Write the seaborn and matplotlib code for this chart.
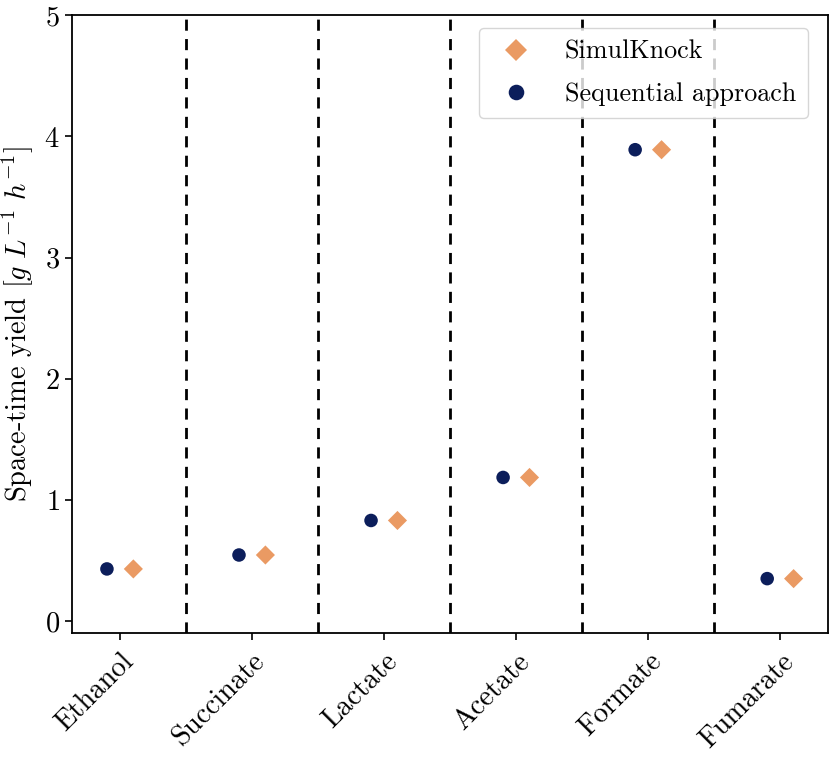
import matplotlib
matplotlib.use("Agg")
import matplotlib.pyplot as plt
import numpy as np
import pandas as pd
import seaborn as sns

categories = ["Ethanol", "Succinate", "Lactate", "Acetate", "Formate", "Fumarate"]
simulknock = [0.43, 0.545, 0.83, 1.185, 3.89, 0.35]
sequential = [0.43, 0.545, 0.83, 1.185, 3.89, 0.35]
series_names = ["SimulKnock", "Sequential approach"]

sns.set_style("ticks")
plt.rcParams["font.family"] = "serif"
plt.rcParams["font.serif"] = ["cmr10"]
plt.rcParams["mathtext.fontset"] = "cm"
plt.rcParams["axes.formatter.use_mathtext"] = True
plt.rcParams["axes.unicode_minus"] = False
plt.rcParams["axes.edgecolor"] = "black"
plt.rcParams["xtick.color"] = "black"
plt.rcParams["ytick.color"] = "black"
plt.rcParams["text.color"] = "black"
plt.rcParams["axes.labelcolor"] = "black"

idx = np.arange(len(categories))
df = pd.DataFrame({
    "x": np.concatenate([idx + 0.1, idx - 0.1]),
    "y": simulknock + sequential,
    "method": [series_names[0]] * len(categories) + [series_names[1]] * len(categories),
})

fig = plt.figure(figsize=(8.3, 7.61), dpi=100)
ax = fig.add_axes([0.087, 0.168, 0.911, 0.812])

sns.scatterplot(data=df, x="x", y="y", hue="method", style="method",
                hue_order=series_names, style_order=series_names,
                palette={series_names[0]: "#EA9A63", series_names[1]: "#0C1E5B"},
                markers={series_names[0]: "D", series_names[1]: "o"},
                s=95, linewidth=0, ax=ax, zorder=3)

for b in idx[:-1] + 0.5:
    ax.axvline(b, color="black", linestyle="--", linewidth=2.0, dashes=(4, 3), zorder=1)

ax.set_xlim(-0.363, 5.363)
ax.set_ylim(-0.1, 5.0)
ax.set_xticks(idx)
ax.set_xticklabels(categories, rotation=45, ha="right", rotation_mode="anchor", fontsize=20.5)
ax.set_yticks([0, 1, 2, 3, 4, 5])
ax.tick_params(axis="y", labelsize=20.5, length=5, width=1.2, pad=4)
ax.tick_params(axis="x", length=5, width=1.2, pad=6)
ax.set_xlabel("")
ax.set_ylabel(r"Space-time yield [$g\ L^{-1}\ h^{-1}$]", fontsize=20.5, labelpad=6)
for sp in ax.spines.values():
    sp.set_linewidth(1.3)

leg = ax.legend(loc="upper right", fontsize=18.8, handletextpad=0.85, labelspacing=0.72,
                borderpad=0.45, frameon=True, markerscale=1.15, bbox_to_anchor=(0.99, 1.0))
leg.get_frame().set_edgecolor("#cccccc")

fig.savefig("out.png", dpi=100)
